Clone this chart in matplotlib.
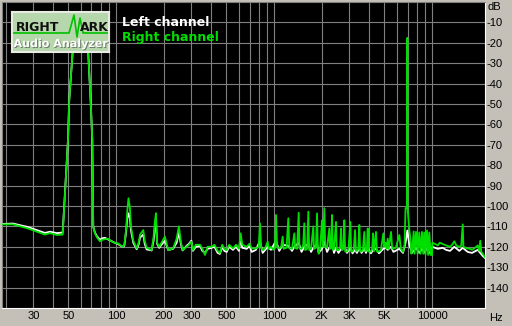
import numpy as np
import matplotlib
matplotlib.use("Agg")
import matplotlib.pyplot as plt
import matplotlib.patheffects as pe
from matplotlib.ticker import NullFormatter

# Spectrum readings (Hz, dB)
right_freq = [19.0, 22.3, 27.7, 35.5, 38.2, 42.3, 46.0,
              49.7, 50.6, 53.2, 56.5, 60.1, 63.5, 66.7, 69.1, 70.8,
              71.8, 73.6, 76, 79.2, 82, 85.2, 89.0, 94.3, 98, 103, 107, 110.7, 113,
              115.7, 118, 120, 122.5, 124.4, 128.7, 135.2, 139, 142, 148.9, 152,
              156.5, 162, 168.2, 173, 176, 179.1, 182, 188, 194, 204, 214, 230,
              242, 250, 258, 264, 280, 290, 300, 307, 320, 340, 352, 366, 380,
              403, 420, 440, 455, 470, 485, 502, 520, 550, 575, 600, 615, 630,
              672, 700, 723,
              769, 800, 815, 830, 848, 880, 912, 925, 957, 990, 1015, 1030, 1045,
              1080, 1110, 1135, 1150, 1200, 1232, 1250, 1300, 1345, 1360, 1400,
              1433, 1450, 1494, 1530, 1555, 1575, 1620, 1649, 1670, 1715, 1773,
              1790, 1840, 1872, 1895, 1919, 1960, 2013, 2040, 2082, 2110, 2165,
              2239, 2260, 2300, 2328, 2355, 2397, 2469, 2495, 2560, 2620, 2656,
              2690, 2750, 2786, 2820, 2897, 2960, 3041, 3080, 3140, 3200, 3256,
              3300, 3352, 3420, 3467, 3510, 3580, 3650, 3729, 3780, 3823, 3870,
              3918, 3960, 4111, 4180, 4233, 4290, 4422, 4480, 4620, 4750, 4918,
              4980, 5078, 5160, 5243, 5320, 5502, 5600, 5700, 5900, 6209, 6350,
              6554, 6700, 6800, 6960, 6979, 7000, 7050, 7185, 7300, 7400, 7500,
              7650, 7750, 7918, 8100, 8309, 8450, 8643, 8800, 8939, 9100, 9298,
              9450, 9614, 9800, 10000, 10050, 10400, 10867, 11200, 11687, 12264,
              12999, 13400, 13839, 14300, 14888, 15300, 15643, 15800, 16300,
              16821, 17400, 17915, 18700, 19464, 19900, 20200, 20500, 20941, 21643]
right_db = [-109.0, -109.0, -111.0, -114.0, -113.3, -114.2, -114.0,
            -67.6, -48, -24.5, -13, -8, -13, -24.5, -48, -67.6,
            -110.3, -113.4, -115.5, -117.3, -116.5, -116.3, -116.0, -117.5, -118, -118.3, -119.3, -120, -119,
            -112, -102, -96.2, -101, -110, -117, -120.8, -118, -114, -111.8, -117,
            -120.5, -121, -121.6, -115, -108, -103.5, -118, -120, -118, -115, -121.6, -120.8,
            -116, -110, -118, -121.6, -120, -119, -117.5, -121.6, -119, -119, -121, -124, -120,
            -120, -119, -122, -123, -119, -121, -121.6, -119, -120.8, -119, -121, -113.4, -119,
            -120, -118.5, -120.8,
            -120.8, -120, -108.5, -120.5, -121.6, -120.5, -117.5, -121, -120, -121.5, -120.5, -104.4, -120,
            -120.8, -120, -115, -121, -120.5, -106, -120.8, -121, -113.4, -120.5, -121,
            -103.3, -120.8, -121, -119, -108.5, -121.6, -121, -102.8, -121.6, -121, -110,
            -121, -120.5, -103.6, -121, -123.4, -120.5, -107, -120, -101.1, -120, -120.5,
            -111, -121, -120.5, -104.4, -121.6, -121, -107.8, -121.6, -121.6, -120.5, -111,
            -121.6, -121, -107, -122.3, -122.3, -121, -107.8, -122.3, -122.3, -121, -111.8,
            -122, -122, -121, -109.3, -122.3, -122.3, -121.5, -112.7, -122, -122, -121,
            -111, -122.3, -122.3, -121, -113.4, -122.3, -112.7, -122.3, -122.3, -121.5, -113.4,
            -120, -118, -121, -116, -121, -112.7, -121, -120.8, -120.5, -114.2, -121,
            -122.5, -119, -101, -101, -17.6, -101, -104, -111.8, -116, -123.4, -121,
            -112.5, -123.4, -112.7, -123.4, -113, -123.4, -112.7, -123.4, -113, -123.8, -112,
            -124, -113, -124, -124, -118, -118.5, -119.3, -118, -118.6, -119.3,
            -120, -119, -117.3, -119.5, -120, -119.5, -109, -120, -120.5,
            -120.8, -121, -121.5, -120.5, -119.3, -122, -117, -122.5, -123.4, -125]

left_freq = [19.0, 22.3, 27.7, 35.5, 38.2, 42.3, 46.0,
             49.7, 50.6, 53.2, 56.5, 60.1, 63.5, 66.7, 69.1, 70.8,
             71.8, 73.6, 76, 79.2, 82, 85.2, 89, 94.3, 98, 103, 107, 110.7, 113,
             115.7, 118, 120, 122.5, 124.4, 128.7, 135.2, 139, 142, 148.9, 152,
             156.5, 162, 168.2, 173, 176, 179.1, 182, 188, 194, 204, 214, 230,
             242, 250, 258, 264, 280, 290, 300, 307, 320, 340, 352, 366, 380,
             403, 420, 440, 455, 470, 485, 502, 520, 550, 575, 600, 615, 630,
             672, 700, 723,
             769, 815, 848, 912, 957, 1030, 1080, 1135, 1232, 1300, 1345, 1433,
             1494, 1555, 1649, 1715, 1773, 1872, 1919, 2013, 2082, 2165, 2239,
             2328, 2397, 2469, 2560, 2656, 2786, 2897, 3041, 3140, 3256, 3352,
             3467, 3580, 3729, 3823, 3918, 4111, 4233, 4422, 4620, 4918, 5078,
             5243, 5502, 5700, 6209, 6554, 6800, 6979, 7185, 7472, 7918, 8309,
             8643, 8939, 9298, 9614, 10000, 10050, 10867, 11687, 12264, 12999,
             13839, 14888, 15643, 16821, 17915, 19464, 20941, 21643]
left_db = [-108.8, -108.6, -110.3, -113.2, -112.6, -113.3, -113.0,
           -67.6, -48, -24.5, -13, -8, -13, -24.5, -48, -67.6,
           -110.0, -113.0, -115, -116.5, -115.8, -115.6, -116.4, -117.3, -118, -118.6, -119.5, -120, -119.5,
           -113, -106, -103.6, -106, -112, -118, -121.2, -119, -115.5, -114, -118.5,
           -121.3, -121.5, -121.8, -117, -111, -107, -118.5, -120.5, -119, -117, -121.6, -121,
           -118, -113, -119, -121.8, -119.5, -118.5, -117, -122, -120, -119.5, -122, -123, -121,
           -120.5, -120, -123, -123.5, -120, -122, -122.5, -120, -121.5, -120, -122, -116, -120.5,
           -121, -119.5, -122.5,
           -121.5, -117, -123, -120, -121.5, -117, -122, -119, -119.5, -122, -120, -118,
           -122.5, -120, -118.5, -122.5, -120.5, -118.5, -123, -121, -117.5, -122.5, -120.5,
           -117, -123, -120.5, -123, -121, -119.5, -123, -120.5, -123.2, -121.5, -123,
           -120.5, -123, -121, -123, -120.5, -123.2, -121.5, -121, -123.2, -121, -120.5,
           -121.5, -120, -122.5, -121, -123, -118, -112, -119, -123, -120.5, -123,
           -121, -122.8, -120.5, -123, -122.5, -120, -121, -120.5, -121.5, -122,
           -120, -122, -120.5, -122.5, -123, -121.5, -124.5, -125.5]

grid_freqs = [20, 30, 40, 50, 60, 70, 80, 90, 100, 200, 300, 400, 500, 600,
              700, 800, 900, 1000, 2000, 3000, 4000, 5000, 6000, 7000, 8000,
              9000, 10000]
label_freqs = [30, 50, 100, 200, 300, 500, 1000, 2000, 3000, 5000, 10000]
label_text = ["30", "50", "100", "200", "300", "500", "1000", "2K", "3K", "5K", "10000"]
db_ticks = list(range(-10, -150, -10))

W, H = 512, 326
bg = "#c4c0b8"
fig = plt.figure(figsize=(W / 100, H / 100), dpi=100, facecolor=bg)
ax = fig.add_axes([2 / W, 18 / H, 483 / W, 306 / H])
ax.set_facecolor("black")
ax.set_xscale("log")
ax.set_xlim(19.0, 21640)
ax.set_ylim(-150, 0)

ax.plot(left_freq, left_db, color="white", lw=1.3, zorder=3)
ax.plot(right_freq, right_db, color="#00e000", lw=1.3, zorder=4)

ax.set_xticks(label_freqs)
ax.set_xticklabels(label_text)
ax.set_xticks(grid_freqs, minor=True)
ax.xaxis.set_minor_formatter(NullFormatter())
ax.set_yticks(db_ticks)
ax.set_yticklabels([str(v) for v in db_ticks])
ax.yaxis.tick_right()
ax.tick_params(which="both", length=0)
ax.tick_params(axis="x", pad=2, labelsize=8)
ax.tick_params(axis="y", pad=1, labelsize=8)
for lab in ax.get_xticklabels() + ax.get_yticklabels():
    lab.set_fontfamily("Liberation Sans")
ax.grid(which="minor", axis="x", color="#808080", lw=0.8)
ax.grid(which="major", axis="both", color="#808080", lw=0.8)
ax.set_axisbelow(True)
for side, col in [("left", "#808080"), ("top", "#808080"),
                  ("right", "#ffffff"), ("bottom", "#ffffff")]:
    ax.spines[side].set_color(col)
    ax.spines[side].set_linewidth(0.8)

fig.text(488 / W, 1 - 2 / H, "dB", ha="left", va="top", fontsize=8,
         family="Liberation Sans")
fig.text(489 / W, 1 - 318 / H, "Hz", ha="left", va="center", fontsize=8,
         family="Liberation Sans")

# legend texts
fig.text(122 / W, 1 - 26.5 / H, "Left channel", color="white", fontsize=9,
         fontweight="bold", va="baseline")
fig.text(122 / W, 1 - 41.5 / H, "Right channel", color="#00e000", fontsize=9,
         fontweight="bold", va="baseline")

# RightMark logo
lg = fig.add_axes([12 / W, 1 - 52 / H, 97 / W, 40 / H])
lg.set_facecolor("#b6d6ac")
lg.set_xlim(0, 97)
lg.set_ylim(40, 0)
lg.set_xticks([])
lg.set_yticks([])
for s in lg.spines.values():
    s.set_color("#e8ece4")
    s.set_linewidth(1.5)
lg.plot([1, 57, 62, 65, 68, 71, 96], [21, 21, 3, 25, 6, 21, 21], color="#00c000", lw=1.2)
lg.text(4, 19, "RIGHT", fontsize=9, fontweight="bold", color="#101010", va="baseline")
lg.text(68, 19, "ARK", fontsize=9, fontweight="bold", color="#101010", va="baseline")
lg.text(48.5, 35, "Audio Analyzer", fontsize=8, fontweight="bold", color="white",
        ha="center", va="baseline",
        path_effects=[pe.withSimplePatchShadow(offset=(0.7, -0.7), shadow_rgbFace="#6a7a66", alpha=1)])

fig.savefig("out.png", dpi=100, facecolor=bg)
